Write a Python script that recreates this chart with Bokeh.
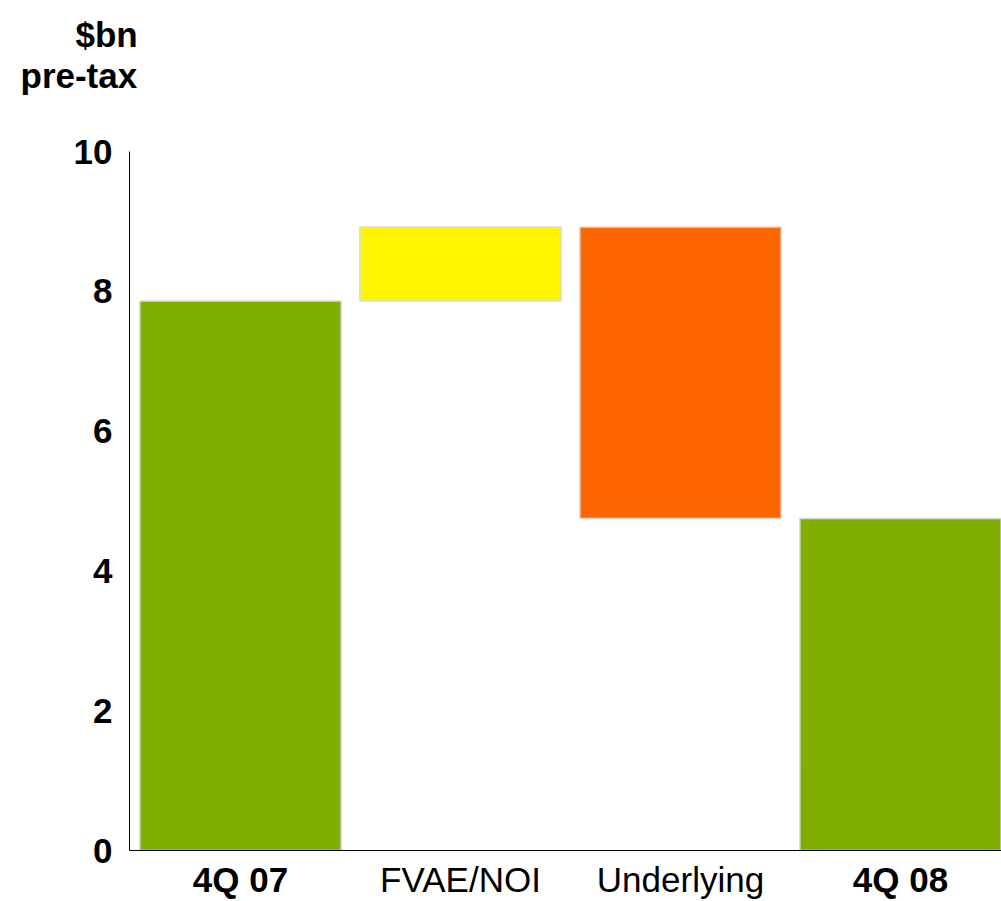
from bokeh.plotting import figure
from bokeh.models import Range1d, FixedTicker, LinearAxis, Title, ColumnDataSource
from bokeh.embed import file_html
from bokeh.resources import INLINE

categories = ["4Q 07", "FVAE/NOI", "Underlying", "4Q 08"]
bold_cats = [True, False, False, True]
changes = [7.86, 1.06, -4.17, None]  # last is total
colors = ["#7FAD00", "#FFF500", "#FF6600", "#7FAD00"]
y_ticks = [0, 2, 4, 6, 8, 10]
unit_lines = ["$bn", "pre-tax"]

bottoms, tops = [], []
run = 0.0
for i, c in enumerate(changes):
    if i == 0:
        bottoms.append(0.0); tops.append(c); run = c
    elif c is None:
        bottoms.append(0.0); tops.append(run)
    else:
        new = run + c
        bottoms.append(min(run, new)); tops.append(max(run, new)); run = new

xs = list(range(len(categories)))
src = ColumnDataSource(dict(x=xs, top=tops, bottom=bottoms, color=colors))

W, H = 1001, 901
FL, FT, FB = 129, 151, 850
px_per_cat = 220.0
x0 = -(240 - FL) / px_per_cat
x1 = x0 + (W - FL) / px_per_cat

p = figure(width=W, height=H, output_backend="svg", toolbar_location=None,
           x_range=Range1d(x0, x1), y_range=Range1d(0, 10),
           min_border_left=FL, min_border_top=FT, min_border_bottom=H - FB,
           min_border_right=0)
p.outline_line_color = None
p.grid.visible = False
p.background_fill_color = "white"
p.border_fill_color = "white"

p.vbar(x="x", width=0.915, top="top", bottom="bottom", source=src,
       fill_color="color", line_color="#dadada", line_width=1.5)

FONT = "Liberation Sans"

ya = p.yaxis[0]
ya.ticker = FixedTicker(ticks=y_ticks)
ya.major_tick_out = 0
ya.major_tick_in = 0
ya.minor_tick_out = 0
ya.minor_tick_in = 0
ya.major_label_standoff = 17
ya.major_label_text_font = FONT
ya.major_label_text_font_style = "bold"
ya.major_label_text_font_size = "35px"
ya.major_label_text_color = "black"
ya.axis_line_color = "black"

bold_idx = [i for i in xs if bold_cats[i]]
norm_idx = [i for i in xs if not bold_cats[i]]

xa = p.xaxis[0]
xa.ticker = FixedTicker(ticks=bold_idx)
xa.major_label_overrides = {i: categories[i] for i in bold_idx}
xa.major_tick_out = 0
xa.major_tick_in = 0
xa.minor_tick_out = 0
xa.minor_tick_in = 0
xa.major_label_standoff = 9
xa.major_label_text_font = FONT
xa.major_label_text_font_style = "bold"
xa.major_label_text_font_size = "35px"
xa.major_label_text_color = "black"
xa.axis_line_color = "black"

xb = LinearAxis(ticker=FixedTicker(ticks=norm_idx),
                major_label_overrides={i: categories[i] for i in norm_idx})
xb.major_tick_out = 0
xb.major_tick_in = 0
xb.minor_tick_out = 0
xb.minor_tick_in = 0
xb.axis_line_color = None
xb.major_label_standoff = -42
xb.major_label_text_font = FONT
xb.major_label_text_font_style = "normal"
xb.major_label_text_font_size = "35px"
xb.major_label_text_color = "black"
p.add_layout(xb, "below")

p.title = None
spacer = Title(text=" ", align="left", standoff=16, text_font=FONT,
               text_font_size="35px", text_color="white")
t1 = Title(text=unit_lines[1], align="left", offset=-109, standoff=0,
           text_font=FONT, text_font_size="35px", text_font_style="bold",
           text_color="black")
t2 = Title(text=unit_lines[0], align="left", offset=-54, standoff=0,
           text_font=FONT, text_font_size="35px", text_font_style="bold",
           text_color="black")
p.add_layout(spacer, "above")
p.add_layout(t1, "above")
p.add_layout(t2, "above")

open("out.html", "w").write(file_html(p, INLINE))
